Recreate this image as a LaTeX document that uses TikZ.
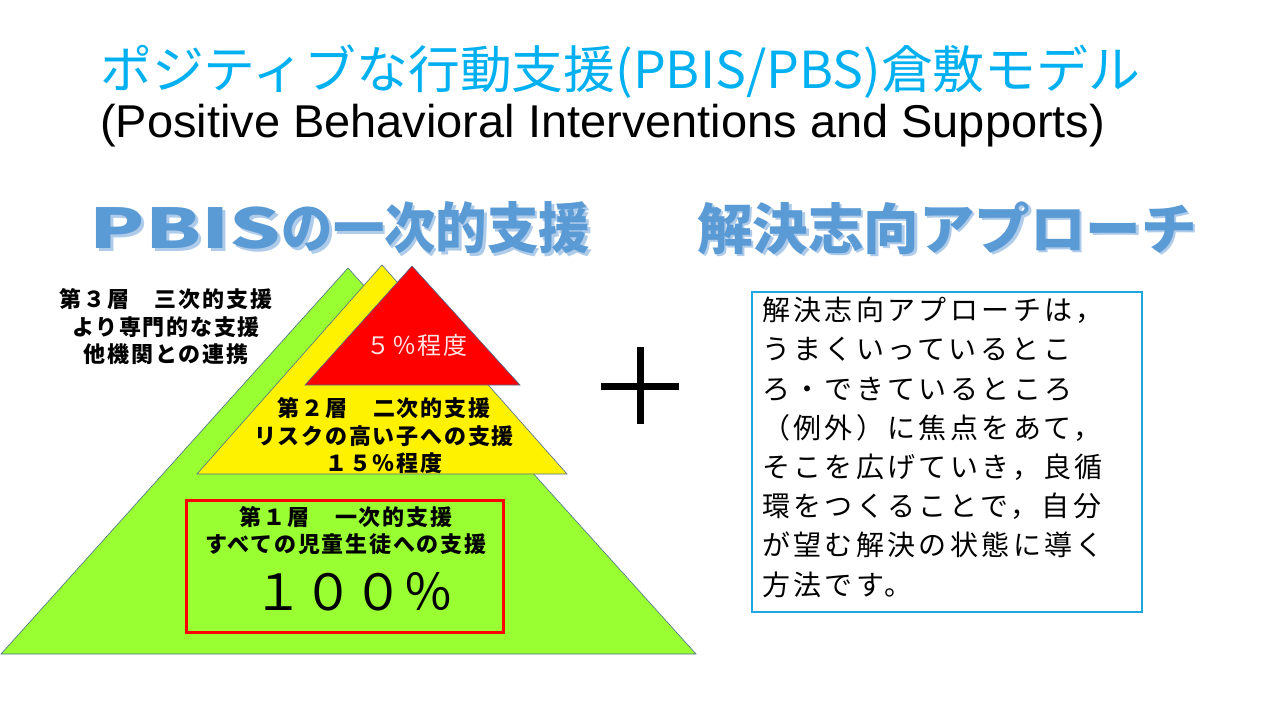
\documentclass[tikz,border=0pt]{standalone}
\usepackage{fontspec}
\usepackage{graphicx}
\setmainfont{Noto Sans CJK JP}
\newfontfamily\enfont{Liberation Sans}
\newfontfamily\boxfont[LetterSpace=12]{Noto Sans CJK JP}
\newfontfamily\lblfont[LetterSpace=8]{Noto Sans CJK JP}
\definecolor{titlecyan}{HTML}{00B0F0}
\definecolor{headblue}{HTML}{5B9BD5}
\definecolor{headshadow}{HTML}{AFCBEA}
\definecolor{lime}{HTML}{99FF33}
\definecolor{edgeblue}{HTML}{4A6E8E}
\definecolor{boxcyan}{HTML}{1CA7E0}
\definecolor{pinkish}{HTML}{FFE4E4}
\newcommand{\headA}{\resizebox{500pt}{\height}{\resizebox{205pt}{\height}{PBIS}の一次的支援}}
\newcommand{\headB}{\resizebox{500pt}{\height}{解決志向アプローチ}}
\tikzset{
  tri/.style={draw=edgeblue, line width=0.6pt, line join=miter},
  lbl/.style={align=center, inner sep=0pt, font=\lblfont\bfseries\fontsize{22}{27.5}\selectfont},
  head/.style={inner sep=0pt, text=headblue, font=\bfseries\fontsize{55}{60}\selectfont},
  headsh/.style={inner sep=0pt, text=headshadow, font=\bfseries\fontsize{55}{60}\selectfont},
}
\begin{document}
\begin{tikzpicture}[x=1pt,y=-1pt]
\useasboundingbox[fill=white] (0,0) rectangle (1280,720);
% title
\node[inner sep=0pt, anchor=west, text=titlecyan, font=\fontsize{51}{54}\selectfont] (title) at (100,72)
  {\resizebox{1040pt}{\height}{ポジティブな行動支援(PBIS/PBS)倉敷モデル}};
\node[inner sep=0pt, anchor=west, font=\enfont\fontsize{46}{50}\selectfont] (subtitle) at (100,126)
  {\resizebox{1005pt}{\height}{(Positive Behavioral Interventions and Supports)}};
% headings
\node[headsh] (h1s) at (342.5,230.5) {\headA};
\node[head] (h1) at (340,228) {\headA};
\node[headsh] (h2s) at (949.5,230.5) {\headB};
\node[head] (h2) at (947,228) {\headB};
% pyramid
\path[tri, fill=lime] (348,268) -- (696,654) -- (1,654) -- cycle;
\path[tri, fill=yellow] (382,265) -- (567,474) -- (197,474) -- cycle;
\path[tri, fill=red] (412,266) -- (520,385) -- (305,385) -- cycle;
\node[draw=red, line width=3pt, minimum width=317pt, minimum height=132pt, inner sep=0pt] (tier1box) at (344.5,566) {};
% labels
\node[lbl] (tier3) at (166,327) {第３層　三次的支援\\より専門的な支援\\他機関との連携};
\node[inner sep=0pt, text=pinkish, font=\lblfont\fontsize{24}{28}\selectfont] (five) at (417,345) {５％程度};
\node[lbl] (tier2) at (384,436) {第２層　二次的支援\\リスクの高い子への支援\\１５％程度};
\node[lbl] (tier1) at (346,530.5) {第１層　一次的支援\\すべての児童生徒への支援};
\node[inner sep=0pt, font=\fontsize{50}{54}\selectfont] (hundred) at (353,592) {１００％};
% plus
\coordinate (pl) at (601,386);
\coordinate (pr) at (679,386);
\coordinate (pt) at (640,347);
\coordinate (pb) at (640,424);
\draw[line width=7pt] (pl) -- (pr);
\draw[line width=7pt] (pt) -- (pb);
% text box
\node[draw=boxcyan, line width=2.5pt, minimum width=390pt, minimum height=320pt, inner sep=0pt] (sfbox) at (947,452) {};
\node[anchor=north west, align=left, inner sep=0pt, font=\boxfont\fontsize{28}{39.2}\selectfont] (sftext) at (762,297)
  {解決志向アプローチは，\\うまくいっているとこ\\ろ・できているところ\\（例外）に焦点をあて，\\そこを広げていき，良循\\環をつくることで，自分\\が望む解決の状態に導く\\方法です。};
\end{tikzpicture}
\end{document}
